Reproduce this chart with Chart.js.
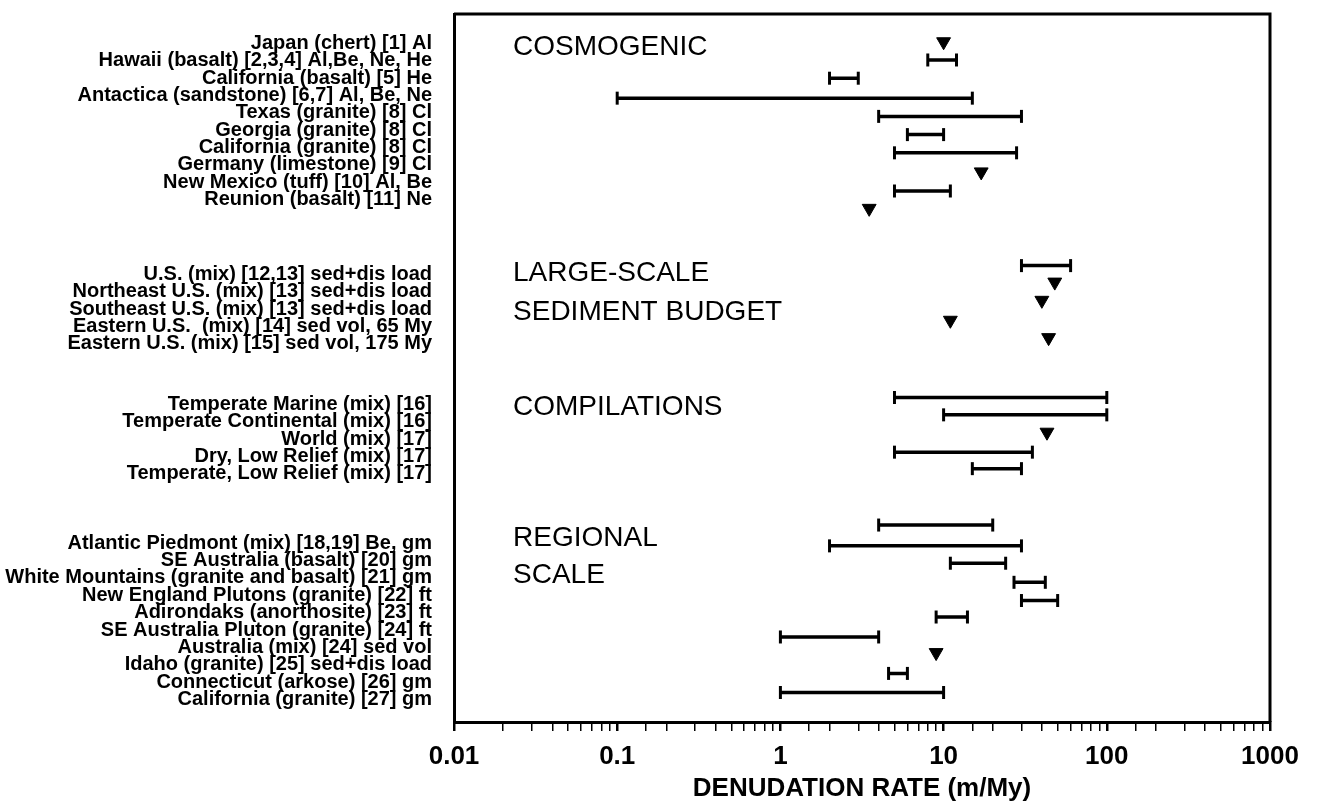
<!DOCTYPE html>
<html>
<head>
<meta charset="utf-8">
<script src="https://cdn.jsdelivr.net/npm/chart.js@4/dist/chart.umd.min.js"></script>
<style>
  html, body { margin: 0; padding: 0; background: #fff; }
  #wrap { width: 1317px; height: 804px; }
</style>
</head>
<body>
<div id="wrap"><canvas id="denudationChart"></canvas></div>
<script>
// site labels, top to bottom
const siteNames = [
    'Japan (chert) [1] Al',
    'Hawaii (basalt) [2,3,4] Al,Be, Ne, He',
    'California (basalt) [5] He',
    'Antactica (sandstone) [6,7] Al, Be, Ne',
    'Texas (granite) [8] Cl',
    'Georgia (granite) [8] Cl',
    'California (granite) [8] Cl',
    'Germany (limestone) [9] Cl',
    'New Mexico (tuff) [10] Al, Be',
    'Reunion (basalt) [11] Ne',
    'U.S. (mix) [12,13] sed+dis load',
    'Northeast U.S. (mix) [13] sed+dis load',
    'Southeast U.S. (mix) [13] sed+dis load',
    'Eastern U.S.  (mix) [14] sed vol, 65 My',
    'Eastern U.S. (mix) [15] sed vol, 175 My',
    'Temperate Marine (mix) [16]',
    'Temperate Continental (mix) [16]',
    'World (mix) [17]',
    'Dry, Low Relief (mix) [17]',
    'Temperate, Low Relief (mix) [17]',
    'Atlantic Piedmont (mix) [18,19] Be, gm',
    'SE Australia (basalt) [20] gm',
    'White Mountains (granite and basalt) [21] gm',
    'New England Plutons (granite) [22] ft',
    'Adirondaks (anorthosite) [23] ft',
    'SE Australia Pluton (granite) [24] ft',
    'Australia (mix) [24] sed vol',
    'Idaho (granite) [25] sed+dis load',
    'Connecticut (arkose) [26] gm',
    'California (granite) [27] gm'
];

// row of each label on the y axis (rows counted from the top of the frame)
const labelRows = [
    1.7, 2.7, 3.7, 4.7, 5.7, 6.7, 7.7, 8.7, 9.7, 10.7,
    15.0, 16.0, 17.0, 18.0, 19.0,
    22.5, 23.5, 24.5, 25.5, 26.5,
    30.5, 31.5, 32.5, 33.5, 34.5, 35.5, 36.5, 37.5, 38.5, 39.5
];

// row of each mark (the marks drift a little from their labels)
const markRows = [
    1.6, 2.65, 3.7, 4.85, 5.9, 6.95, 8.0, 9.1, 10.2, 11.2,
    14.5, 15.45, 16.5, 17.65, 18.65,
    22.1, 23.1, 24.1, 25.25, 26.2,
    29.45, 30.65, 31.65, 32.75, 33.8, 34.75, 35.9, 36.8, 38.0, 39.1
];

// denudation rate ranges (m/My); null where the site is a single value
const rateLow = [
    null, 8, 2, 0.1, 4, 6, 5, null, 5, null,
    30, null, null, null, null,
    5, 10, null, 5, 15,
    4, 2, 11, 27, 30, 9, 1, null, 4.6, 1
];
const rateHigh = [
    null, 12, 3, 15, 30, 10, 28, null, 11, null,
    60, null, null, null, null,
    100, 100, null, 35, 30,
    20, 30, 24, 42, 50, 14, 4, null, 6, 10
];
// single values (triangles)
const rateSingle = [
    10, null, null, null, null, null, null, 17, null, 3.5,
    null, 48, 40, 11, 44,
    null, null, 43, null, null,
    null, null, null, null, null, null, null, 9, null, null
];

const sectionNames = ['COSMOGENIC', 'LARGE-SCALE', 'SEDIMENT BUDGET', 'COMPILATIONS', 'REGIONAL', 'SCALE'];
const sectionRows = [1.9, 14.95, 17.2, 22.65, 30.2, 32.35];
const sectionX = 0.023;

const xTickLabels = ['0.01', '0.1', '1', '10', '100', '1000'];
const rowMax = 40.8;

const isDecade = v => Math.abs(Math.log10(v) - Math.round(Math.log10(v))) < 1e-6;

// range segments separated by gaps, plus their end caps
const rangeLine = [];
const rangeCaps = [];
const singles = [];
siteNames.forEach((n, i) => {
    if (rateLow[i] !== null) {
        rangeLine.push({ x: rateLow[i], y: markRows[i] }, { x: rateHigh[i], y: markRows[i] }, { x: null, y: null });
        rangeCaps.push({ x: rateLow[i], y: markRows[i] }, { x: rateHigh[i], y: markRows[i] });
    }
    if (rateSingle[i] !== null) singles.push({ x: rateSingle[i], y: markRows[i] });
});

const framePlugin = {
    id: 'frame',
    afterDraw(chart) {
        const { ctx, chartArea: a, scales } = chart;
        ctx.save();
        ctx.strokeStyle = '#000';
        ctx.lineWidth = 3;
        ctx.beginPath();
        ctx.moveTo(a.left, a.top);
        ctx.lineTo(a.right, a.top);
        ctx.lineTo(a.right, a.bottom);
        ctx.stroke();
        // section names inside the frame
        ctx.font = '28px "Liberation Sans", Arial, sans-serif';
        ctx.fillStyle = '#000';
        ctx.textBaseline = 'middle';
        ctx.textAlign = 'left';
        sectionNames.forEach((t, i) => {
            ctx.fillText(t, scales.x.getPixelForValue(sectionX), scales.y.getPixelForValue(sectionRows[i]));
        });
        ctx.restore();
    }
};

Chart.defaults.font.family = '"Liberation Sans", Arial, sans-serif';
Chart.defaults.color = '#000';

new Chart(document.getElementById('denudationChart').getContext('2d'), {
    type: 'scatter',
    data: {
        datasets: [{
            label: 'range',
            data: rangeLine,
            showLine: true,
            spanGaps: false,
            borderColor: '#000',
            borderWidth: 3.5,
            pointRadius: 0
        }, {
            label: 'caps',
            data: rangeCaps,
            pointStyle: 'line',
            rotation: 90,
            radius: 6.5,
            borderColor: '#000',
            borderWidth: 3
        }, {
            label: 'single',
            data: singles,
            pointStyle: 'triangle',
            rotation: 180,
            radius: 8,
            backgroundColor: '#000',
            borderColor: '#000',
            borderWidth: 1
        }]
    },
    options: {
        responsive: true,
        maintainAspectRatio: false,
        animation: false,
        layout: { padding: { top: 14, right: 47, left: 0, bottom: 0 } },
        plugins: {
            legend: { display: false },
            tooltip: { enabled: false }
        },
        scales: {
            x: {
                type: 'logarithmic',
                position: 'bottom',
                min: 0.01,
                max: 1000,
                border: { display: true, color: '#000', width: 3 },
                grid: {
                    drawOnChartArea: false,
                    drawTicks: true,
                    tickLength: 9,
                    color: '#000',
                    lineWidth: (c) => (c.tick && isDecade(c.tick.value)) ? 2.5 : 1.5
                },
                afterFit: (s) => { s.height = 82; s.paddingLeft = 0; s.paddingRight = 0; },
                ticks: {
                    autoSkip: false,
                    maxRotation: 0,
                    padding: 10,
                    color: '#000',
                    font: { size: 26, weight: 'bold' },
                    callback: (v) => isDecade(v) ? xTickLabels[Math.round(Math.log10(v)) + 2] : ''
                },
                title: {
                    display: true,
                    text: 'DENUDATION RATE (m/My)',
                    color: '#000',
                    font: { size: 26, weight: 'bold' },
                    padding: { top: 1, bottom: 0 }
                }
            },
            y: {
                type: 'linear',
                reverse: true,
                min: 0,
                max: rowMax,
                border: { display: true, color: '#000', width: 3 },
                grid: { display: false, drawTicks: false },
                afterBuildTicks: (s) => { s.ticks = labelRows.map(v => ({ value: v })); },
                afterFit: (s) => { s.width = 454; s.paddingTop = 0; s.paddingBottom = 0; },
                ticks: {
                    autoSkip: false,
                    padding: 22,
                    color: '#000',
                    font: { size: 20, weight: 'bold' },
                    callback: (v, i) => siteNames[i]
                }
            }
        }
    },
    plugins: [framePlugin]
});
</script>
</body>
</html>
